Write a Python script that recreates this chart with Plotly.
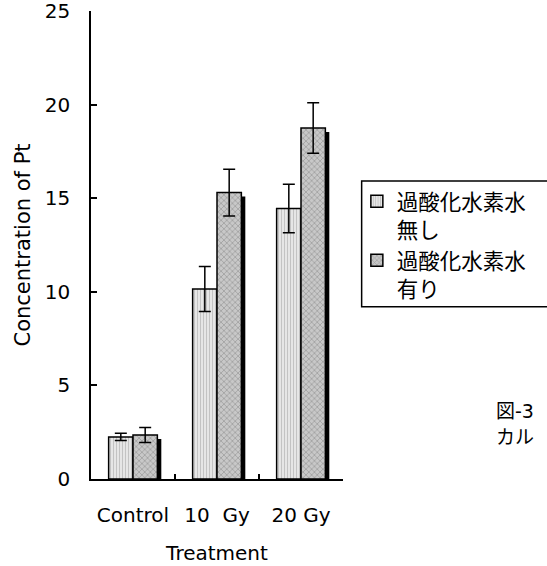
import plotly.graph_objects as go

categories = ["Control", "10\u00a0\u00a0Gy", "20 Gy"]
series_names = ["過酸化水素水<br>無し", "過酸化水素水<br>有り"]
values_without = [2.25, 10.15, 14.45]
errors_without = [0.2, 1.2, 1.3]
values_with = [2.35, 15.3, 18.75]
errors_with = [0.4, 1.25, 1.35]
y_ticks = [0, 5, 10, 15, 20, 25]

FONT = "DejaVu Sans, Noto Sans CJK JP"
BAR_W = 0.29
shadow_drop = 0.21

fig = go.Figure()

fig.add_trace(go.Bar(
    x=categories, y=values_without, name=series_names[0],
    width=BAR_W, offset=-BAR_W,
    marker=dict(color="#d9d9d9", line=dict(color="black", width=1.5),
                pattern=dict(shape="|", fgcolor="#a0a0a0", bgcolor="#e6e6e6", size=3, solidity=0.35)),
    error_y=dict(type="data", array=errors_without, color="black", thickness=1.5, width=6),
))
fig.add_trace(go.Bar(
    x=categories, y=[v - shadow_drop for v in values_with], showlegend=False,
    width=BAR_W, offset=0.047,
    marker=dict(color="black", line=dict(width=0)), hoverinfo="skip",
))
fig.add_trace(go.Bar(
    x=categories, y=values_with, name=series_names[1],
    width=BAR_W, offset=0.0,
    marker=dict(color="#b0b0b0", line=dict(color="black", width=1.5),
                pattern=dict(shape="x", fgcolor="#808080", bgcolor="#c8c8c8", size=4, solidity=0.4)),
    error_y=dict(type="data", array=errors_with, color="black", thickness=1.5, width=6),
))

fig.update_layout(
    width=547, height=566,
    barmode="overlay",
    plot_bgcolor="white", paper_bgcolor="white",
    margin=dict(l=91, r=204, t=11, b=87, autoexpand=False),
    font=dict(family=FONT, size=20, color="black"),
    legend=dict(x=1.055, y=0.637, xanchor="left", yanchor="top",
                borderwidth=0, bgcolor="rgba(0,0,0,0)",
                font=dict(family="Noto Sans CJK JP", size=21.5, color="black"),
                valign="top", tracegroupgap=0, itemwidth=30),
    shapes=[
        dict(type="rect", xref="paper", yref="paper", x0=1.074, x1=1.95, y0=0.368, y1=0.637,
             line=dict(color="black", width=1.5), fillcolor="rgba(0,0,0,0)", layer="above"),
    ],
    annotations=[
        dict(text="図-3", xref="paper", yref="paper", x=1.6, y=0.145,
             xanchor="left", yanchor="middle", showarrow=False,
             font=dict(family=FONT, size=19)),
        dict(text="カル", xref="paper", yref="paper", x=1.6, y=0.09,
             xanchor="left", yanchor="middle", showarrow=False,
             font=dict(family=FONT, size=19)),
    ],
)
fig.update_xaxes(
    showline=True, linecolor="black", linewidth=1.5,
    ticks="inside", tickson="boundaries", ticklen=5, tickcolor="black", tickwidth=1.5,
    ticklabelstandoff=17, tickfont=dict(size=20),
    title=dict(text="Treatment", font=dict(size=20), standoff=20),
    showgrid=False, zeroline=False,
)
fig.update_yaxes(
    range=[0, 25], tickvals=y_ticks, ticktext=[str(t) for t in y_ticks],
    showline=True, linecolor="black", linewidth=1.5,
    ticks="inside", ticklen=6, tickcolor="black", tickwidth=1.5,
    ticklabelstandoff=15, tickfont=dict(size=20), ticklabeloverflow="allow",
    title=dict(text="Concentration of Pt", font=dict(size=21), standoff=8),
    showgrid=False, zeroline=False,
)

fig.write_html("out.html", config={"displayModeBar": False},
               post_script="document.body.style.margin='0';")
